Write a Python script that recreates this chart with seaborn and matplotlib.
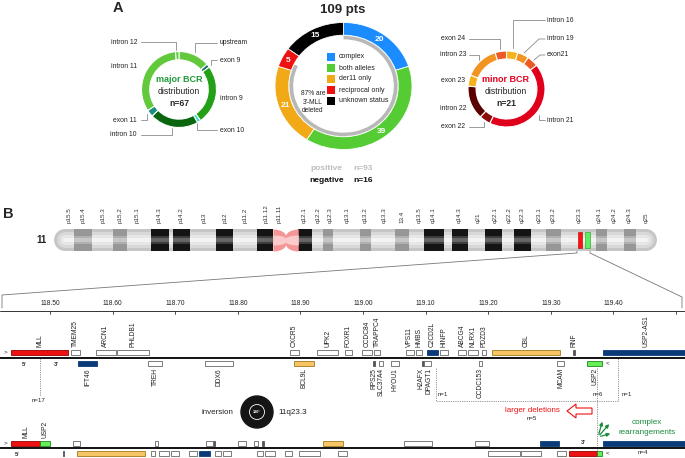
import matplotlib
matplotlib.use('Agg')
import matplotlib.pyplot as plt
import matplotlib.patches as mpatches
import numpy as np
import seaborn as sns

W, H = 685, 458

# ---------------- panel A data ----------------
status_labels = ['complex', 'both alleles', 'der11 only', 'reciprocal only', 'unknown status']
status_counts = [20, 39, 21, 5, 15]
deleted_arc = [82, 18]          # grey arc: share of ring with 3'-MLL deleted

major_labels = ['upstream', 'exon 9', 'intron 9', 'exon 10', 'intron 10', 'exon 11', 'intron 11', 'intron 12']
major_counts = [9, 1, 17, 1, 14, 2, 22, 1]

minor_labels = ['intron 16', 'intron 19', 'exon21', 'intron 21', 'exon 22', 'intron 22', 'exon 23', 'intron 23', 'exon 24']
minor_counts = [1, 1, 1, 9, 1, 3, 1, 3, 1]

# ---------------- panel B data ----------------
band_names = ['p15.5', 'p15.4', 'p15.3', 'p15.2', 'p15.1', 'p14.3', 'p14.2', 'p13', 'p12', 'p11.2',
              'p11.12', 'p11.11', 'q12.1', 'q12.2', 'q12.3', 'q13.1', 'q13.2', 'q13.3', '13.4', 'q13.5',
              'q14.1', 'q14.3', 'q21', 'q22.1', 'q22.2', 'q22.3', 'q23.1', 'q23.2', 'q23.3', 'q24.1',
              'q24.2', 'q24.3', 'q25']
band_label_pos = [2.5, 4.8, 8.1, 10.9, 13.8, 17.4, 21.1, 24.9, 28.4, 31.7, 35.2, 37.3, 41.5, 43.9,
                  45.8, 48.6, 51.6, 54.7, 57.7, 60.5, 62.9, 67.2, 70.3, 73.1, 75.5, 77.6, 80.4,
                  82.8, 87.1, 90.5, 92.9, 95.4, 98.3]
dark_bands = [(16.1, 19.0), (19.7, 22.6), (26.9, 29.7), (33.7, 36.3), (40.5, 42.8),
              (61.4, 64.7), (66.0, 68.7), (71.5, 74.3), (76.3, 79.1)]
grey_bands = [(3.3, 6.3), (9.8, 12.1), (44.6, 46.3), (50.7, 52.6), (56.6, 58.9),
              (81.6, 84.1), (89.9, 91.7), (94.5, 96.5)]
centromere = (36.3, 40.5)
mll_locus = (86.9, 87.6)
usp2_locus = (88.1, 88.9)

# genes on chr11 (Mb), normal allele; plus strand drawn above the line
plus_names = ['MLL', 'TMEM25', 'ARCN1', 'PHLDB1', 'CXCR5', 'UPK2', 'FOXR1', 'CCDC84', 'TRAPPC4',
              'VPS11', 'HMBS', 'C2CD2L', 'HINFP', 'ABCG4', 'NLRX1', 'PDZD3', 'CBL', 'RNF', 'USP2-AS1']
plus_start = [118.438, 118.534, 118.573, 118.607, 118.883, 118.927, 118.971, 118.998, 119.018,
              119.069, 119.085, 119.102, 119.123, 119.152, 119.168, 119.190, 119.206, 119.335, 119.383]
plus_end = [118.529, 118.548, 118.605, 118.658, 118.898, 118.960, 118.982, 119.014, 119.027,
            119.081, 119.094, 119.120, 119.136, 119.165, 119.184, 119.196, 119.315, 119.338, 119.520]

minus_names = ['IFT46', 'TREH', 'DDX6', 'BCL9L', 'RPS25', 'SLC37A4', 'HYOU1', 'H2AFX', 'DPAGT1',
               'CCDC153', 'MCAM', 'USP2']
minus_start = [118.545, 118.657, 118.748, 118.890, 119.016, 119.026, 119.045, 119.095, 119.098,
               119.185, 119.310, 119.358]
minus_end = [118.575, 118.679, 118.792, 118.922, 119.019, 119.032, 119.058, 119.098, 119.109,
             119.190, 119.321, 119.382]

breakpoints = (118.484, 119.374)   # MLL / USP2 breakpoints of the inversion
scale_ticks = [118.50, 118.60, 118.70, 118.80, 118.90, 119.00, 119.10, 119.20, 119.30, 119.40, 119.50]

# ---------------- styling ----------------
sns.set_theme(style='white')
plt.rcParams['font.family'] = ['Liberation Sans', 'DejaVu Sans']

status_colors = ['#1a8cff', '#55cc33', '#f2a918', '#ee1111', '#000000']
major_colors = ['#62c93c', '#1d6b6b', '#23a018', '#3adccb', '#0b670f', '#1a8c80', '#62c93c', '#62c93c']
minor_colors = ['#f6b21c', '#f39322', '#ee5a24', '#e0001b', '#8c0c0c', '#5a0000', '#f6b21c', '#f39322', '#ee5a24']
gene_fill = {'MLL': '#ee1111', 'USP2': '#66ee55', 'CBL': '#f7c563', 'BCL9L': '#f7c563',
             'IFT46': '#0a3a78', 'C2CD2L': '#0a3a78', 'USP2-AS1': '#0a3a78',
             'RPS25': '#555555', 'H2AFX': '#555555', 'RNF': '#555555'}
gene_edge = {'MLL': '#990000', 'USP2': '#1f8a1f', 'CBL': '#a07a20', 'BCL9L': '#a07a20'}
label_nudge = {'H2AFX': -0.004, 'DPAGT1': 0.0015}   # Mb shift to keep crowded labels apart
LINE = '#8a8a8a'

fig = plt.figure(figsize=(W / 100, H / 100), dpi=100)
ov = fig.add_axes([0, 0, 1, 1])
ov.set_xlim(0, W)
ov.set_ylim(H, 0)
ov.axis('off')


def px_axes(x0, y0, x1, y1):
    return fig.add_axes([x0 / W, 1 - y1 / H, (x1 - x0) / W, (y1 - y0) / H])


def donut(cx, cy, rx, ry, counts, colors, width, lw=0.8):
    ax = px_axes(cx - rx * 1.03, cy - ry * 1.03, cx + rx * 1.03, cy + ry * 1.03)
    ax.pie(counts, colors=colors, startangle=90, counterclock=False,
           wedgeprops=dict(width=width, edgecolor='white', linewidth=lw))
    ax.set_aspect('auto')
    ax.set_xlim(-1.03, 1.03)
    ax.set_ylim(-1.03, 1.03)
    ax.axis('off')
    return ax


def callouts(items, fs=4.9):
    for txt, x, y, ha, pts in items:
        ov.text(x, y, txt, ha=ha, va='center', fontsize=fs, color='#222222')
        if pts:
            xs, ys = zip(*pts)
            ov.plot(xs, ys, color=LINE, lw=0.6)


# ================= panel A =================
ov.text(118, 8, 'A', fontsize=10.5, fontweight='bold', ha='center', va='center')
ov.text(343, 10, '109 pts', fontsize=9.5, fontweight='bold', ha='center', va='center')

# major BCR
donut(179, 89.5, 37.5, 38, major_counts, major_colors, 0.22)
ov.text(179, 80, 'major BCR', ha='center', va='center', fontsize=6.5, fontweight='bold', color='#1f9a3a')
ov.text(179, 92, 'distribution', ha='center', va='center', fontsize=6.2, color='#222222')
ov.text(179, 104, 'n=67', ha='center', va='center', fontsize=6.2, fontweight='bold')
callouts([
    ('intron 12', 138, 42, 'right', [(141, 42), (176, 42), (176, 50)]),
    ('upstream', 220, 43, 'left', [(217, 43), (195, 43), (195, 52)]),
    ('exon 9', 220, 60, 'left', [(217, 60), (211, 60), (211, 65)]),
    ('intron 11', 137, 67, 'right', None),
    ('intron 9', 220, 98, 'left', None),
    ('exon 11', 137, 120, 'right', [(141, 120), (147, 120), (147, 114)]),
    ('exon 10', 220, 130, 'left', [(217, 130), (197, 130), (197, 123)]),
    ('intron 10', 137, 135, 'right', [(141, 135), (172, 135), (172, 128)]),
])

# minor BCR
donut(506.5, 89, 38.5, 38, minor_counts, minor_colors, 0.21)
ov.text(506, 79, 'minor BCR', ha='center', va='center', fontsize=6.5, fontweight='bold', color='#e8001c')
ov.text(506, 91, 'distribution', ha='center', va='center', fontsize=6.2, color='#222222')
ov.text(506, 103, 'n=21', ha='center', va='center', fontsize=6.2, fontweight='bold')
callouts([
    ('intron 16', 547, 20, 'left', [(545, 20), (513, 20), (513, 48)]),
    ('exon 24', 465, 39, 'right', [(469, 39), (500, 39), (500, 49)]),
    ('intron 19', 547, 39, 'left', [(545, 39), (539, 39), (524, 53)]),
    ('intron 23', 466, 55, 'right', [(469, 55), (479, 55), (479, 60)]),
    ('exon21', 547, 55, 'left', [(545, 55), (540, 55), (534, 60)]),
    ('exon 23', 465, 81, 'right', None),
    ('intron 22', 466, 109, 'right', None),
    ('exon 22', 465, 127, 'right', [(469, 127), (484, 127), (484, 122)]),
    ('intron 21', 547, 120, 'left', [(545, 120), (539, 120), (539, 115)]),
])

# central status donut
cax = donut(343.5, 86, 68.5, 63.5, status_counts, status_colors, 0.2, lw=0.6)
cax.pie(deleted_arc, colors=['#b8b8b8', 'none'], startangle=90, counterclock=False, radius=0.79,
        wedgeprops=dict(width=0.055, linewidth=0))
cax.set_aspect('auto')
cax.set_xlim(-1.03, 1.03)
cax.set_ylim(-1.03, 1.03)
tot = sum(status_counts)
cum = 0
for v in status_counts:
    ang = np.deg2rad(90 - 360 * (cum + v / 2) / tot)
    cax.text(0.9 * np.cos(ang), 0.9 * np.sin(ang), str(v), ha='center', va='center',
             fontsize=6, fontweight='bold', color='white')
    cum += v

for i, (lab, col) in enumerate(zip(status_labels, status_colors)):
    y = 57 + i * 11
    ov.add_patch(mpatches.Rectangle((327, y - 4), 8, 8, color=col, lw=0))
    ov.text(339, y, lab, ha='left', va='center', fontsize=5, color='#222222')
ov.text(313, 102, "87% are\n3'-MLL\ndeleted", ha='center', va='center', fontsize=4.8,
        linespacing=1.35, color='#222222')
ov.text(326, 168, 'positive', ha='center', va='center', fontsize=6, fontweight='bold', color='#bdbdbd')
ov.text(363, 168, 'n=93', ha='center', va='center', fontsize=6, fontweight='bold', color='#bdbdbd')
ov.text(327, 181, 'negative', ha='center', va='center', fontsize=6, fontweight='bold', color='#111111')
ov.text(363, 181, 'n=16', ha='center', va='center', fontsize=6, fontweight='bold', color='#111111')

# ================= panel B: ideogram =================
ov.text(8, 214, 'B', fontsize=10.5, fontweight='bold', ha='center', va='center')
ov.text(42, 240, '11', fontsize=7, fontweight='bold', ha='center', va='center')

chx = px_axes(54, 229, 657, 251)
chx.set_xlim(0, 100)
chx.set_ylim(0, 1)
chx.axis('off')
for lw, col in [(22, '#c6c6c6'), (16, '#d8d8d8'), (10, '#e6e6e6'), (4, '#f3f3f3')]:
    chx.plot([1.8, 98.2], [0.5, 0.5], lw=lw * 0.72, color=col, solid_capstyle='round',
             clip_on=False, zorder=1)
for bands, shades in [(dark_bands, ['#141414', '#3c3c3c', '#666666']),
                      (grey_bands, ['#979797', '#b0b0b0', '#c6c6c6'])]:
    for s, e in bands:
        chx.bar(s, 1, width=e - s, bottom=0, align='edge', color=shades[0], lw=0, zorder=3)
        chx.bar(s, 0.4, width=e - s, bottom=0.3, align='edge', color=shades[1], lw=0, zorder=3)
        chx.bar(s, 0.14, width=e - s, bottom=0.43, align='edge', color=shades[2], lw=0, zorder=3)
cs, ce = centromere
chx.bar(cs, 1.1, width=ce - cs, bottom=-0.05, align='edge', color='white', lw=0, zorder=4)
xs = np.linspace(cs, ce, 120)
t = np.abs(xs - (cs + ce) / 2) / ((ce - cs) / 2)
hh = 0.18 + 0.32 * np.sqrt(np.clip(1 - (1 - t) ** 2, 0, 1))
chx.fill_between(xs, 0.5 - hh, 0.5 + hh, color='#f49696', lw=0, zorder=5)
chx.fill_between(xs, 0.5 - hh * 0.45, 0.5 + hh * 0.45, color='#fbcaca', lw=0, zorder=5)
chx.bar(mll_locus[0], 0.76, width=mll_locus[1] - mll_locus[0], bottom=0.12, align='edge',
        color='#ff1010', edgecolor='#aa0000', lw=0.4, zorder=6)
chx.bar(usp2_locus[0], 0.76, width=usp2_locus[1] - usp2_locus[0], bottom=0.12, align='edge',
        color='#5cee5c', edgecolor='#229922', lw=0.4, zorder=6)
for name, pos in zip(band_names, band_label_pos):
    chx.text(pos, 1.28, name, rotation=90, ha='center', va='bottom', fontsize=4.5, color='#333333')

# zoom lines from the ideogram to the gene map
ov.plot([577, 577, 2, 2], [251, 253, 295, 308], color='#777777', lw=0.6)
ov.plot([590, 590, 682, 682], [251, 253, 297, 308], color='#777777', lw=0.6)

# ================= panel B: gene map =================
gx = px_axes(0, 290, W, H)
gx.set_xlim(118.5 - 50 / 626, 118.5 + 635 / 626)
gx.set_ylim(H, 290)
gx.axis('off')

# scale
gx.plot(gx.get_xlim(), [311, 311], color='#333333', lw=0.7)
for tk in scale_ticks:
    gx.plot([tk, tk], [311, 314], color='#333333', lw=0.6)
    if tk < 119.45:
        gx.text(tk, 303, f'{tk:.2f}', ha='center', va='center', fontsize=4.8, color='#222222')


def draw_gene(name, s, e, y0, h):
    fill = gene_fill.get(name, 'white')
    edge = gene_edge.get(name, '#666666' if fill == 'white' else fill)
    gx.bar(s, h, width=e - s, bottom=y0, align='edge', color=fill, edgecolor=edge, lw=0.6, zorder=3)


def rearranged(s, e, strand):
    # pieces of a gene on the inverted allele
    a, b = breakpoints
    out = []
    for i, (ps, pe) in enumerate([(s, min(e, a)), (max(s, a), min(e, b)), (max(s, b), e)]):
        if pe <= ps:
            continue
        if i == 1:
            out.append((a + b - pe, a + b - ps, -strand))
        else:
            out.append((ps, pe, strand))
    return out


rows = {1: (350, 5), -1: (361, 5)}
rows_inv = {1: (441, 4.5), -1: (451, 4.5)}
gx.plot(gx.get_xlim(), [358, 358], color='#111111', lw=1.4)
gx.plot(gx.get_xlim(), [448, 448], color='#111111', lw=1.4)
genes = [(n, s, e, 1) for n, s, e in zip(plus_names, plus_start, plus_end)] + \
        [(n, s, e, -1) for n, s, e in zip(minus_names, minus_start, minus_end)]
for n, s, e, strand in genes:
    y0, h = rows[strand]
    draw_gene(n, s, e, y0, h)
    mid = (s + min(e, gx.get_xlim()[1] + 0.06)) / 2 + label_nudge.get(n, 0)
    if strand == 1:
        gx.text(mid, 347, n, rotation=90, ha='center', va='bottom', fontsize=4.8, color='#222222')
    else:
        gx.text(mid, 368, n, rotation=90, ha='center', va='top', fontsize=4.8, color='#222222')
    for ps, pe, st in rearranged(s, e, strand):
        y0, h = rows_inv[st]
        draw_gene(n, ps, pe, y0, h)
        if n in ('MLL', 'USP2') and ps < breakpoints[0] + 0.02:
            gx.text((ps + pe) / 2, 438, n, rotation=90, ha='center', va='bottom', fontsize=4.8,
                    color='#222222')

# strand / end marks
for x, y, s in [(5, 352, '>'), (5, 443, '>'), (608, 363, '<'), (608, 453, '<')]:
    ov.text(x, y, s, ha='center', va='center', fontsize=4.5, color='#222222')
for x, y in [(24, 364), (17, 455)]:
    ov.text(x, y, "5'", ha='center', va='center', fontsize=4.3, fontweight='bold', color='#333333')
for x, y in [(56, 364), (583, 443)]:
    ov.text(x, y, "3'", ha='center', va='center', fontsize=4.3, fontweight='bold', color='#333333')

# breakpoint groups
dot = dict(color='#8c8c8c', lw=0.6, linestyle=(0, (1.5, 1.2)))
ov.plot([40, 40], [358, 396], **dot)
ov.plot([436, 436, 618, 618], [368, 401, 401, 358], **dot)
ov.plot([597, 597], [368, 452], **dot)
for x, y, s in [(39, 400, 'n=17'), (443, 395, 'n=1'), (598, 395, 'n=6'), (627, 395, 'n=1'),
                (532, 418, 'n=5'), (643, 453, 'n=4')]:
    ov.text(x, y, s, ha='center', va='center', fontsize=4.4, color='#222222')

ov.text(532, 411, 'larger deletions', ha='center', va='center', fontsize=5.8, color='#ee1111')
ov.add_patch(mpatches.FancyArrow(592, 411, -25, 0, width=6, head_width=14, head_length=9,
                                 length_includes_head=True, fc='white', ec='#ee1111', lw=0.8))

ov.text(647, 422, 'complex', ha='center', va='center', fontsize=5.9, color='#1a8a3a')
ov.text(647, 432, 'rearrangements', ha='center', va='center', fontsize=5.9, color='#1a8a3a')
for tx, ty in [(603, 419), (611, 422), (613, 433)]:
    ov.annotate('', xy=(tx, ty), xytext=(598, 437),
                arrowprops=dict(arrowstyle='-|>', color='#1a8a3a', lw=0.9, mutation_scale=5))

# inversion icon
ov.add_patch(mpatches.Ellipse((257, 412), 32, 32, color='#151515'))
ov.add_patch(mpatches.Ellipse((257, 412), 15, 15, fill=False, ec='white', lw=0.6))
ov.text(257, 412, '180°', ha='center', va='center', fontsize=2.8, color='white', fontweight='bold')
ov.text(233, 412, 'inversion', ha='right', va='center', fontsize=5.8, color='#222222')
ov.text(278, 412, '11q23.3', ha='left', va='center', fontsize=5.9, color='#222222')

fig.savefig('out.png', dpi=100)
plt.close(fig)
